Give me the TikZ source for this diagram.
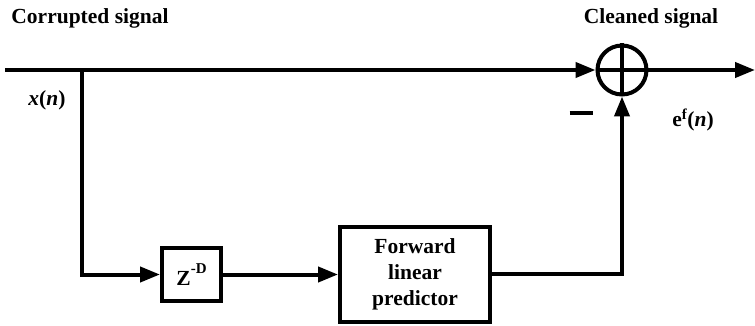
\documentclass[tikz,border=0pt]{standalone}
\usepackage{fontspec}
\setmainfont{Liberation Serif}
\usetikzlibrary{positioning,arrows.meta}

\begin{document}
\begin{tikzpicture}[
x=1pt,y=-1pt,
plain/.style={
  draw=none,
  fill=none,
  font=\bfseries\fontsize{21.5}{26}\selectfont
  },
block/.style={
  draw,
  line width=4pt,
  align=center,
  inner sep=0pt,
  font=\bfseries\fontsize{21.5}{26}\selectfont
  },
adder/.style={
  draw,
  circle,
  line width=4pt,
  minimum size=49pt,
  inner sep=0pt
  },
wire/.style={line width=4pt},
>={Triangle[length=20pt,width=15pt]}
]
\useasboundingbox (0,0) rectangle (755,326);

% signal path
\coordinate (in) at (5,70);
\coordinate (branch) at (82,70);
\coordinate (out) at (755,70);
\node[adder] (sum) at (622,70) {};
\node[block, minimum width=59pt, minimum height=53pt] (delay) at (191.5,274.5)
  {Z\raisebox{0.55em}{\fontsize{15}{15}\selectfont -D}};
\node[block, minimum width=150pt, minimum height=95pt] (pred) at (415,274) {Forward\\linear\\predictor};

% labels
\node[plain] (corrupted) at (90,18) {Corrupted signal};
\node[plain] (cleaned) at (651,18) {Cleaned signal};
\node[plain] (xn) at (47,100) {\textit{x}(\textit{n})};
\node[plain, inner sep=0pt] (minus) at (581,113) {\rule{23pt}{4pt}};
\node[plain] (efn) at (693,120) {e\textsuperscript{f}(\textit{n})};

% connectors
\draw[wire,->] (in) -- (sum.west);
\draw[wire,->] (sum.east) -- (out);
\draw[wire] (sum.north) -- (sum.south) (sum.west) -- (sum.east);
\draw[wire,->] (branch) |- (delay.west);
\draw[wire,->] (delay.east) -- (delay -| pred.west);
\draw[wire,->] (pred.east) -| (sum.south);
\end{tikzpicture}
\end{document}
